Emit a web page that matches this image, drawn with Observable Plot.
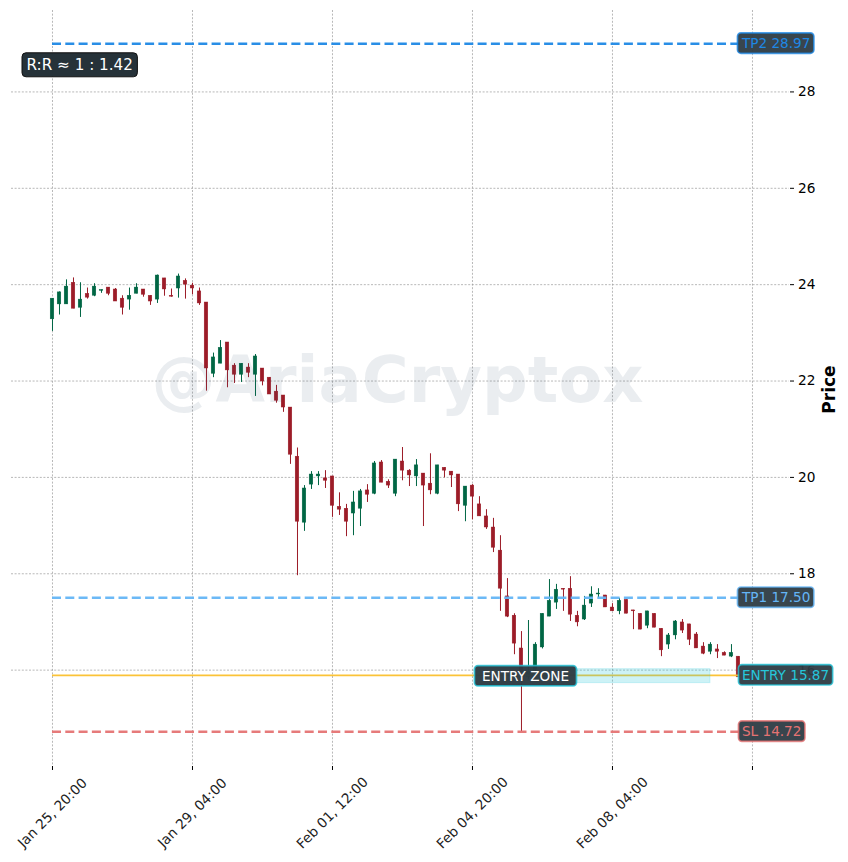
<!DOCTYPE html>
<html><head><meta charset="utf-8">
<style>html,body{margin:0;padding:0;background:#fff}</style>
<script src="https://cdn.jsdelivr.net/npm/d3@7"></script>
<script src="https://cdn.jsdelivr.net/npm/@observablehq/plot@0.6"></script>
</head><body><div id="chart"></div>
<script>
const opens=[23.28,23.59,23.59,24.04,23.52,23.81,23.77,23.87,23.94,23.90,
23.71,23.69,23.81,23.90,23.77,23.69,24.13,23.77,23.92,24.08,
23.98,23.86,23.63,22.15,22.36,22.80,22.32,22.13,22.28,22.13,
22.26,22.07,21.78,21.70,21.45,20.43,19.06,19.85,20.02,19.98,
20.02,19.39,19.35,19.25,19.35,19.73,19.66,20.31,19.91,19.66,
20.33,20.14,20.02,20.08,19.87,19.66,20.20,20.12,20.06,19.41,
19.83,19.44,19.19,18.96,18.48,17.53,17.13,16.45,15.85,16.00,
16.47,17.11,17.40,17.69,17.69,17.13,17.05,17.38,17.57,17.55,
17.30,17.22,17.46,17.24,17.17,16.92,17.17,16.86,16.53,16.72,
16.99,16.95,16.74,16.49,16.38,16.43,16.36,16.28,16.28];
const closes=[23.71,23.84,23.96,23.50,23.69,23.73,23.96,23.89,23.81,23.65,
23.52,23.77,23.94,23.79,23.65,24.19,23.90,23.75,24.17,24.00,
23.92,23.61,22.26,22.49,22.69,22.22,22.13,22.36,22.17,22.51,
21.99,21.72,21.59,21.45,20.47,19.08,19.77,20.06,20.06,19.93,
19.41,19.33,19.08,19.48,19.71,19.64,20.29,19.89,19.83,20.37,
20.14,20.04,20.25,19.83,19.73,20.25,20.14,20.04,19.44,19.81,
19.60,19.19,18.96,18.54,17.69,17.11,16.55,15.95,15.96,16.53,
17.17,17.44,17.67,17.67,17.15,16.99,17.34,17.57,17.59,17.30,
17.22,17.44,17.17,17.22,16.84,17.22,16.88,16.41,16.72,17.01,
16.82,16.63,16.45,16.34,16.53,16.38,16.30,16.36,15.85];
const highs=[23.71,23.85,24.10,24.14,24.04,23.93,24.02,23.89,23.94,23.92,
23.77,23.93,24.02,23.90,23.77,24.20,24.13,23.91,24.22,24.12,
24.03,23.93,23.63,22.58,22.84,22.80,22.36,22.36,22.36,22.55,
22.26,22.07,21.91,21.70,21.45,20.61,19.83,20.12,20.12,20.14,
20.02,19.68,19.44,19.71,19.75,19.85,20.33,20.35,19.95,20.37,
20.62,20.16,20.37,20.08,20.49,20.25,20.20,20.12,20.06,19.81,
19.85,19.60,19.33,19.15,18.79,17.90,17.17,16.80,17.03,16.57,
17.17,17.88,17.78,17.69,17.94,17.22,17.53,17.73,17.69,17.55,
17.38,17.49,17.46,17.24,17.17,17.22,17.17,16.86,16.76,17.03,
17.05,16.95,16.78,16.57,16.57,16.53,16.38,16.53,16.28];
const lows=[23.03,23.37,23.59,23.50,23.32,23.70,23.75,23.82,23.77,23.65,
23.37,23.47,23.81,23.74,23.57,23.61,23.76,23.74,23.72,23.70,
23.79,23.57,21.79,22.07,22.36,21.86,21.95,21.97,22.07,21.68,
21.90,21.72,21.54,21.35,20.27,17.96,18.88,19.75,19.83,19.77,
19.17,19.21,18.77,18.79,18.98,19.48,19.64,19.89,19.77,19.60,
19.93,19.81,19.81,18.98,19.64,19.64,19.99,19.79,19.29,19.08,
19.12,19.19,18.92,18.44,17.22,17.09,16.32,14.72,15.80,15.95,
16.44,17.11,17.26,17.22,17.01,16.90,17.03,17.30,17.49,17.30,
17.22,17.15,17.17,16.84,16.84,16.86,16.88,16.28,16.43,16.63,
16.76,16.51,16.45,16.32,16.32,16.24,16.30,16.26,15.85];

const xTickIndex=[0,20,40,60,80,100];
const xTickLabels=["Jan 25, 20:00","Jan 29, 04:00","Feb 01, 12:00","Feb 04, 20:00","Feb 08, 04:00",""];
const yTicks=[16,18,20,22,24,26,28];
const levelNames=["TP2 28.97","TP1 17.50","ENTRY 15.87","SL 14.72"];
const levelPrices=[29.0,17.5,15.89,14.72];
const levelColors=["#1e88e5","#64b5f6","#fbc02d","#e57373"];
const levelTextColors=["#1e88e5","#64b5f6","#26c6da","#e57373"];
const levelDashed=[true,true,false,true];
const zoneLow=15.73, zoneHigh=16.02, zoneFrom=67, zoneTo=94;
const RED="#9c1c28", GREEN="#006644";

const candles=opens.map((o,i)=>({i,o,c:closes[i],h:highs[i],l:lows[i],col:closes[i]>=o?GREEN:RED}));
const levels=levelNames.map((name,k)=>({name,price:levelPrices[k],col:levelColors[k],tcol:levelTextColors[k],dashed:levelDashed[k]}));
const xTicksLabeled=xTickIndex.filter((_,k)=>xTickLabels[k]);
const half=0.26;

const chart=Plot.plot({
  width:848,height:862,marginLeft:11,marginRight:59,marginTop:10,marginBottom:96,
  style:{fontFamily:"'DejaVu Sans',sans-serif",background:"#fff",color:"#000"},
  x:{domain:[-5.857,105.29],label:null},
  y:{domain:[14.0,29.69],label:null},
  marks:[
    Plot.ruleX(xTickIndex,{x:d=>d,stroke:"#999",strokeWidth:0.7,strokeDasharray:"2,1.6"}),
    Plot.ruleY(yTicks,{y:d=>d,stroke:"#999",strokeWidth:0.7,strokeDasharray:"2,1.6"}),
    Plot.axisX({ticks:xTickIndex,tickFormat:()=>"",tickSize:4,label:null,stroke:"#000"}),
    Plot.text(xTicksLabeled,{x:d=>d,frameAnchor:"bottom",dy:46.5,rotate:-45,textAnchor:"middle",lineAnchor:"middle",text:d=>xTickLabels[xTickIndex.indexOf(d)],fontSize:13.7,fill:"#222"}),
    Plot.axisY({ticks:yTicks,anchor:"right",tickSize:4,tickPadding:4.5,fontSize:13.7,label:null,tickFormat:d=>String(d),stroke:"#000"}),
    Plot.text(["Price"],{frameAnchor:"right",dx:40,dy:1,rotate:-90,textAnchor:"middle",fontSize:17,fontWeight:"bold",fill:"#000"}),
    Plot.ruleX(candles,{x:"i",y1:"l",y2:"h",stroke:"col",strokeWidth:1}),
    Plot.rect(candles,{x1:d=>d.i-half,x2:d=>d.i+half,y1:d=>Math.min(d.o,d.c),y2:d=>Math.max(d.o,d.c),fill:"col",stroke:"col",strokeWidth:0.4}),
    Plot.ruleY(levels.filter(d=>d.dashed),{y:"price",x1:0,x2:98.5,stroke:"col",strokeWidth:2.5,strokeDasharray:"9,4.3",strokeOpacity:0.95}),
    Plot.ruleY(levels.filter(d=>!d.dashed),{y:"price",x1:0,x2:98.5,stroke:"col",strokeWidth:1.8,strokeOpacity:0.95}),
    Plot.rect([0],{x1:zoneFrom,x2:zoneTo,y1:zoneLow,y2:zoneHigh,fill:"#26c6da",fillOpacity:0.23,stroke:"#26c6da",strokeOpacity:0.2,strokeWidth:1}),
    Plot.text(["@AriaCryptox"],{x:49.3,y:21.98,fontSize:64,fontWeight:"bold",fill:"#2f4f6f",fillOpacity:0.1,textAnchor:"middle"}),
    Plot.text(levels,{x:98,y:"price",dx:3.5,text:"name",fill:"tcol",textAnchor:"start",fontSize:13.6}),
    Plot.text(["ENTRY ZONE"],{x:67.57,y:15.87,fontSize:13.6,fill:"#fff",textAnchor:"middle"}),
    Plot.text(["R:R ≈ 1 : 1.42"],{frameAnchor:"top-left",dx:15,dy:48.5,fontSize:15.2,fill:"#fff",textAnchor:"start"})
  ]
});
document.getElementById("chart").appendChild(chart);

function box(match,padX,padY,rx,fill,fillOp,strokeFn,sw,strokeOp){
  d3.select(chart).selectAll("text").filter(function(){return match.includes(this.textContent);}).each(function(){
    const t=this,b=t.getBBox(),r=document.createElementNS("http://www.w3.org/2000/svg","rect");
    r.setAttribute("x",b.x-padX);r.setAttribute("y",b.y-padY);
    r.setAttribute("width",b.width+2*padX);r.setAttribute("height",b.height+2*padY);
    r.setAttribute("rx",rx);r.setAttribute("fill",fill);r.setAttribute("fill-opacity",fillOp);
    r.setAttribute("stroke",strokeFn(t));r.setAttribute("stroke-width",sw);r.setAttribute("stroke-opacity",strokeOp);
    const tr=t.getAttribute("transform");if(tr)r.setAttribute("transform",tr);
    t.parentNode.insertBefore(r,t);
  });
}
box(levelNames,3.5,2.2,3.5,"#2d3b43",0.95,t=>t.getAttribute("fill"),1.7,0.8);
box(["ENTRY ZONE"],7.5,2.2,3.5,"#2d3b43",0.97,()=>"#26c6da",1.7,0.8);
box(["R:R ≈ 1 : 1.42"],4.5,3,4,"#222e35",0.98,()=>"#111",1,1);
</script></body></html>
